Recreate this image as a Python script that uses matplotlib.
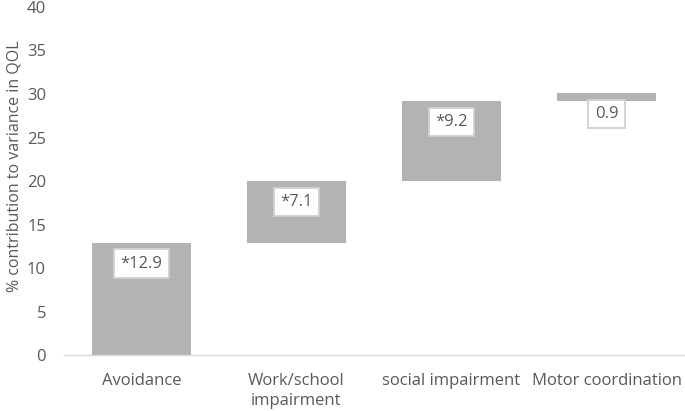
import matplotlib.pyplot as plt

categories = ["Avoidance", "Work/school\nimpairment", "social impairment", "Motor coordination"]
contrib = [12.9, 7.1, 9.2, 0.9]
labels = ["*12.9", "*7.1", "*9.2", "0.9"]

# waterfall bottoms
bottoms = []
run = 0
for v in contrib:
    bottoms.append(run)
    run += v

plt.rcParams['font.family'] = ['Open Sans', 'DejaVu Sans']
fig = plt.figure(figsize=(6.85, 4.11), dpi=100)
ax = fig.add_axes([64 / 685, (411 - 355) / 411, 620 / 685, 348 / 411])

x = range(len(categories))
ax.bar(x, contrib, bottom=bottoms, width=0.64, color="#b3b3b3")

for i, (b, v, t) in enumerate(zip(bottoms, contrib, labels)):
    ax.text(i, b + v - 2.4, t, ha="center", va="center", fontsize=12, color="#595959",
            bbox=dict(boxstyle="square,pad=0.38", fc="white", ec="#d0d0d0", lw=1.3))

ax.set_xlim(-0.5, len(categories) - 0.5)
ax.set_ylim(0, 40)
ax.set_yticks(range(0, 41, 5))
ax.set_xticks(list(x))
ax.set_xticklabels(categories, linespacing=1.3)
ax.tick_params(axis="both", length=0, labelsize=12, colors="#595959")
ax.tick_params(axis="x", pad=13)
ax.tick_params(axis="y", pad=13)
for s in ["top", "right", "left"]:
    ax.spines[s].set_visible(False)
ax.spines["bottom"].set_color("#d9d9d9")
ax.spines["bottom"].set_linewidth(1)
fig.text(15 / 685, 1 - 166 / 411, "% contribution to variance in QOL", rotation=90,
         ha="center", va="center", fontsize=11.5, color="#595959")

fig.savefig("out.png", dpi=100)
